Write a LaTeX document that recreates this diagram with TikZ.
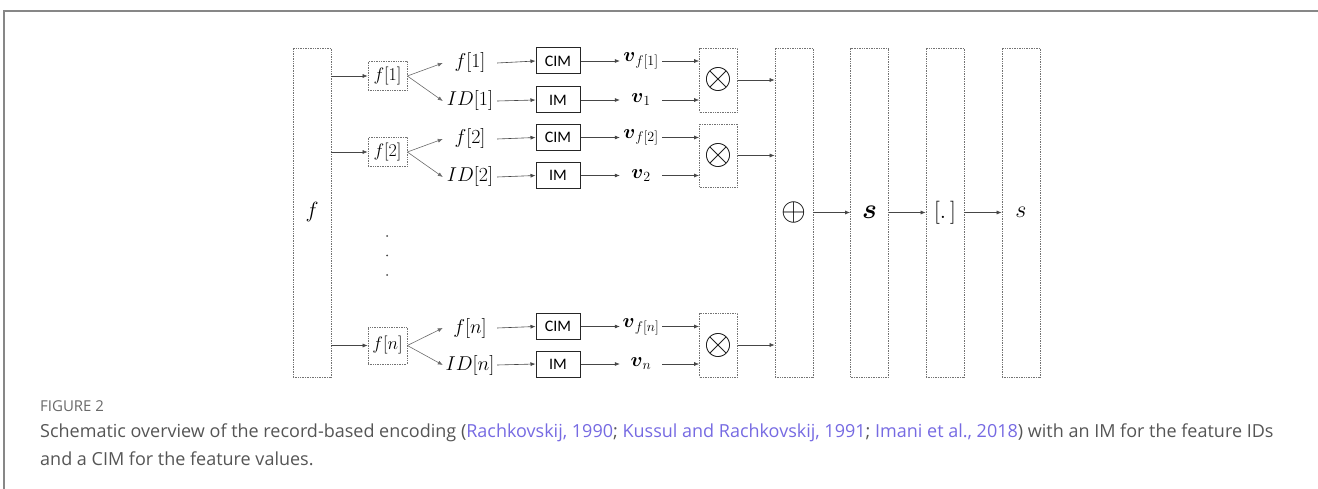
\RequirePackage{fix-cm}
\documentclass[tikz,border=0pt]{standalone}
\usepackage{amsmath}
\usepackage{fontspec}
\usetikzlibrary{arrows.meta}
\newfontfamily\capfont{Open Sans}
\newfontfamily\boxfont{Carlito}
\definecolor{framegray}{RGB}{135,135,135}
\definecolor{capgray}{RGB}{85,85,85}
\definecolor{figgray}{RGB}{105,105,105}
\definecolor{linkcol}{RGB}{118,106,226}
\definecolor{linecol}{RGB}{70,70,70}
\tikzset{
  dotbox/.style={draw=black!55, densely dotted, line width=0.7pt, inner sep=0pt},
  mapbox/.style={draw=black!85, line width=1pt, inner sep=0pt, minimum width=44pt, minimum height=26pt, font=\boxfont\fontsize{16}{18}\selectfont},
  lbl/.style={inner sep=0pt, minimum width=54pt, font=\fontsize{20}{24}\selectfont},
  vlbl/.style={inner sep=0pt, minimum width=42pt, font=\fontsize{20}{24}\selectfont},
  arr/.style={draw=linecol, line width=0.6pt, -{Latex[length=5pt,width=4pt]}},
  fan/.style={draw=linecol!80, line width=0.6pt, -{Latex[length=5pt,width=4pt]}},
  colbox/.style={dotbox, minimum width=38pt, minimum height=329pt},
  fbox/.style={dotbox, minimum width=39pt, font=\fontsize{18}{22}\selectfont},
  otbox/.style={dotbox, minimum width=38pt, font=\fontsize{36}{40}\selectfont},
  capstyle/.style={inner sep=0pt, anchor=west, text=capgray, font=\capfont\fontsize{18}{21}\selectfont}
}
\begin{document}
\begin{tikzpicture}[x=1pt,y=-1pt]
\useasboundingbox (0,0) rectangle (1318,489);
\draw[framegray, line width=2pt] (4,489) -- (4,11) -- (1318,11);

% columns
\node[colbox, font=\fontsize{22}{26}\selectfont] (fbig) at (312,212.5) {$f$};
\node[colbox, font=\fontsize{32}{36}\selectfont] (sum) at (794,212.5) {$\oplus$};
\node[colbox, font=\fontsize{28}{32}\selectfont] (s1) at (869.5,212.5) {$\boldsymbol{s}$};
\node[colbox, font=\fontsize{23}{26}\selectfont] (rnd) at (945,212.5) {$[.\,]$};
\node[colbox, font=\fontsize{24}{28}\selectfont] (s2) at (1021,212.5) {$s$};

% feature boxes
\node[fbox, minimum height=29pt] (fb1) at (387.5,76) {$f[1]$};
\node[fbox, minimum height=29pt] (fb2) at (387.5,152) {$f[2]$};
\node[fbox, minimum height=37pt] (fbn) at (387.5,345.5) {$f[n]$};

% labels
\node[lbl] (fl1) at (470,63) {$f[1]$};
\node[lbl] (id1) at (470,101) {$ID[1]$};
\node[lbl] (fl2) at (470,139) {$f[2]$};
\node[lbl] (id2) at (470,177) {$ID[2]$};
\node[lbl] (fln) at (470,328) {$f[n]$};
\node[lbl] (idn) at (470,365) {$ID[n]$};

% maps
\node[mapbox] (cim1) at (558,61) {CIM};
\node[mapbox] (im1) at (558,100) {IM};
\node[mapbox] (cim2) at (558,137.5) {CIM};
\node[mapbox] (im2) at (558,175.5) {IM};
\node[mapbox] (cimn) at (558,326.5) {CIM};
\node[mapbox] (imn) at (558,364) {IM};

% vectors
\node[vlbl] (vf1) at (641,61) {$\boldsymbol{v}_{f[1]}$};
\node[vlbl] (v1) at (641,100) {$\boldsymbol{v}_1$};
\node[vlbl] (vf2) at (641,137.5) {$\boldsymbol{v}_{f[2]}$};
\node[vlbl] (v2) at (641,175.5) {$\boldsymbol{v}_2$};
\node[vlbl] (vfn) at (641,326.5) {$\boldsymbol{v}_{f[n]}$};
\node[vlbl] (vn) at (641,364) {$\boldsymbol{v}_n$};

% binding boxes
\node[otbox, minimum height=64pt] (ot1) at (718.5,80) {$\otimes$};
\node[otbox, minimum height=63pt] (ot2) at (718.5,155.5) {$\otimes$};
\node[otbox, minimum height=64pt] (otn) at (718.5,345) {$\otimes$};

% vertical dots
\fill[linecol] (387,236) circle (1pt) (387,255.5) circle (1pt) (387,275) circle (1pt);

% connectors
\foreach \b in {fb1,fb2,fbn} {
  \draw[arr] (fbig.east |- \b.west) -- (\b.west);
}
\foreach \b/\u/\d in {fb1/fl1/id1, fb2/fl2/id2, fbn/fln/idn} {
  \draw[fan] (\b.east) -- (\u.west);
  \draw[fan] (\b.east) -- (\d.west);
}
\foreach \l/\m/\v in {fl1/cim1/vf1, id1/im1/v1, fl2/cim2/vf2, id2/im2/v2, fln/cimn/vfn, idn/imn/vn} {
  \draw[arr] (\l.east) -- (\m.west);
  \draw[arr] (\m.east) -- (\v.west);
}
\foreach \v/\o in {vf1/ot1, v1/ot1, vf2/ot2, v2/ot2, vfn/otn, vn/otn} {
  \draw[arr] (\v.east) -- (\v.east -| \o.west);
}
\foreach \o in {ot1,ot2,otn} {
  \draw[arr] (\o.east) -- (\o.east -| sum.west);
}
\draw[arr] (sum.east) -- (s1.west);
\draw[arr] (s1.east) -- (rnd.west);
\draw[arr] (rnd.east) -- (s2.west);

% caption
\node[inner sep=0pt, anchor=west, text=figgray, font=\capfont\fontsize{15}{18}\selectfont] (figlab) at (40,406) {FIGURE 2};
\node[capstyle] (cap1) at (40,433) {Schematic overview of the record-based encoding (\textcolor{linkcol}{Rachkovskij, 1990}; \textcolor{linkcol}{Kussul and Rachkovskij, 1991}; \textcolor{linkcol}{Imani et al., 2018}) with an IM for the feature IDs};
\node[capstyle] (cap2) at (40,459) {and a CIM for the feature values.};
\end{tikzpicture}
\end{document}
